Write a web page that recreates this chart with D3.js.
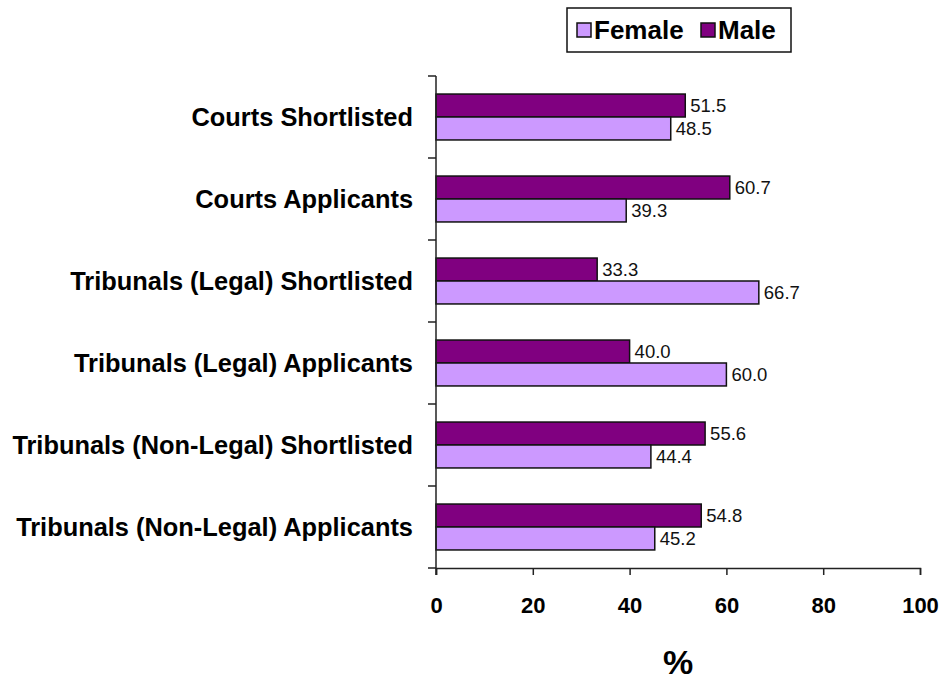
<!DOCTYPE html>
<html>
<head>
<meta charset="utf-8">
<script src="https://cdn.jsdelivr.net/npm/d3@7"></script>
<style>
  body { margin: 0; background: #fff; }
  svg { display: block; font-family: "Liberation Sans", Arial, sans-serif; }
</style>
</head>
<body>
<div class="chart"></div>
<script>
// data, top to bottom as drawn
var categories = [
    "Courts Shortlisted",
    "Courts Applicants",
    "Tribunals (Legal) Shortlisted",
    "Tribunals (Legal) Applicants",
    "Tribunals (Non-Legal) Shortlisted",
    "Tribunals (Non-Legal) Applicants"
];
var male   = [51.5, 60.7, 33.3, 40.0, 55.6, 54.8];
var female = [48.5, 39.3, 66.7, 60.0, 44.4, 45.2];
var seriesNames = ["Male", "Female"];
var legendNames = ["Female", "Male"];
var xTicks = [0, 20, 40, 60, 80, 100];

var colors = { Female: "#CC99FF", Male: "#800080" };

var width = 942, height = 682;
var margin = { top: 76, left: 436, right: 22, bottom: 114 };

var svg = d3.select(".chart").append("svg")
    .attr("width", width)
    .attr("height", height);

var x = d3.scaleLinear()
    .domain([0, 100])
    .range([margin.left, width - margin.right]);

var y = d3.scaleBand()
    .domain(categories)
    .range([margin.top, height - margin.bottom])
    .paddingInner(0.44)
    .paddingOuter(0.22);

var ySub = d3.scaleBand()
    .domain(seriesNames)
    .range([0, y.bandwidth()]);

var rows = categories.map(function (c, i) {
    return { cat: c, values: [
        { name: "Male", v: male[i] },
        { name: "Female", v: female[i] }
    ]};
});

// bars
var group = svg.selectAll(".row")
    .data(rows)
    .enter()
    .append("g")
    .attr("class", "row")
    .attr("transform", function (d) { return "translate(0," + y(d.cat) + ")"; });

var bar = group.selectAll(".bar")
    .data(function (d) { return d.values; })
    .enter()
    .append("g")
    .attr("class", "bar");

bar.append("rect")
    .attr("x", x(0))
    .attr("y", function (d) { return ySub(d.name); })
    .attr("width", function (d) { return x(d.v) - x(0); })
    .attr("height", ySub.bandwidth())
    .attr("fill", function (d) { return colors[d.name]; })
    .style("stroke", "#111")
    .style("stroke-width", "1.5");

bar.append("text")
    .attr("x", function (d) { return x(d.v) + 5; })
    .attr("y", function (d) { return ySub(d.name) + ySub.bandwidth() / 2; })
    .attr("dy", "0.36em")
    .style("font-size", "18.5px")
    .style("fill", "#111")
    .text(function (d) { return d.v.toFixed(1); });

// x axis
var xAxis = svg.append("g")
    .attr("transform", "translate(0," + (height - margin.bottom) + ")")
    .call(d3.axisBottom(x).tickValues(xTicks).tickSize(7).tickSizeOuter(7));
xAxis.select(".domain").attr("stroke", "#222").attr("stroke-width", 1.5);
xAxis.selectAll(".tick line").attr("stroke", "#222").attr("stroke-width", 1.5);
xAxis.selectAll(".tick text")
    .attr("y", 29)
    .attr("dy", "0.71em")
    .style("font-size", "22px")
    .style("font-weight", "bold")
    .style("fill", "#000");

// y axis with ticks between categories
var bounds = categories.map(function (c) { return y(c) - y.step() * y.paddingOuter(); });
bounds.push(height - margin.bottom);

var yAxis = svg.append("g");
yAxis.append("line")
    .attr("x1", x(0)).attr("x2", x(0))
    .attr("y1", margin.top).attr("y2", height - margin.bottom + 7)
    .attr("stroke", "#222").attr("stroke-width", 1.5);
yAxis.selectAll(".ytick")
    .data(bounds)
    .enter()
    .append("line")
    .attr("class", "ytick")
    .attr("x1", x(0) - 8).attr("x2", x(0))
    .attr("y1", function (d) { return d; })
    .attr("y2", function (d) { return d; })
    .attr("stroke", "#222").attr("stroke-width", 1.5);

svg.selectAll(".catLabel")
    .data(categories)
    .enter()
    .append("text")
    .attr("class", "catLabel")
    .attr("x", 413)
    .attr("y", function (d) { return y(d) + y.bandwidth() / 2; })
    .attr("dy", "0.36em")
    .attr("text-anchor", "end")
    .style("font-size", "25.4px")
    .style("font-weight", "bold")
    .style("fill", "#000")
    .text(function (d) { return d; });

// axis title
svg.append("text")
    .attr("x", (x(0) + x(100)) / 2)
    .attr("y", 674)
    .attr("text-anchor", "middle")
    .style("font-size", "34px")
    .style("font-weight", "bold")
    .text("%");

// legend
var legend = svg.append("g");
legend.append("rect")
    .attr("x", 567).attr("y", 8)
    .attr("width", 224).attr("height", 44)
    .attr("fill", "#fff")
    .style("stroke", "#111")
    .style("stroke-width", "1.5");

var lx = [577, 701];
var item = legend.selectAll(".item")
    .data(legendNames)
    .enter()
    .append("g")
    .attr("class", "item")
    .attr("transform", function (d, i) { return "translate(" + lx[i] + ",23)"; });

item.append("rect")
    .attr("width", 14).attr("height", 14)
    .attr("fill", function (d) { return colors[d]; })
    .style("stroke", "#111")
    .style("stroke-width", "1.5");

item.append("text")
    .attr("x", 17)
    .attr("y", 16)
    .style("font-size", "26px")
    .style("font-weight", "bold")
    .text(function (d) { return d; });
</script>
</body>
</html>
